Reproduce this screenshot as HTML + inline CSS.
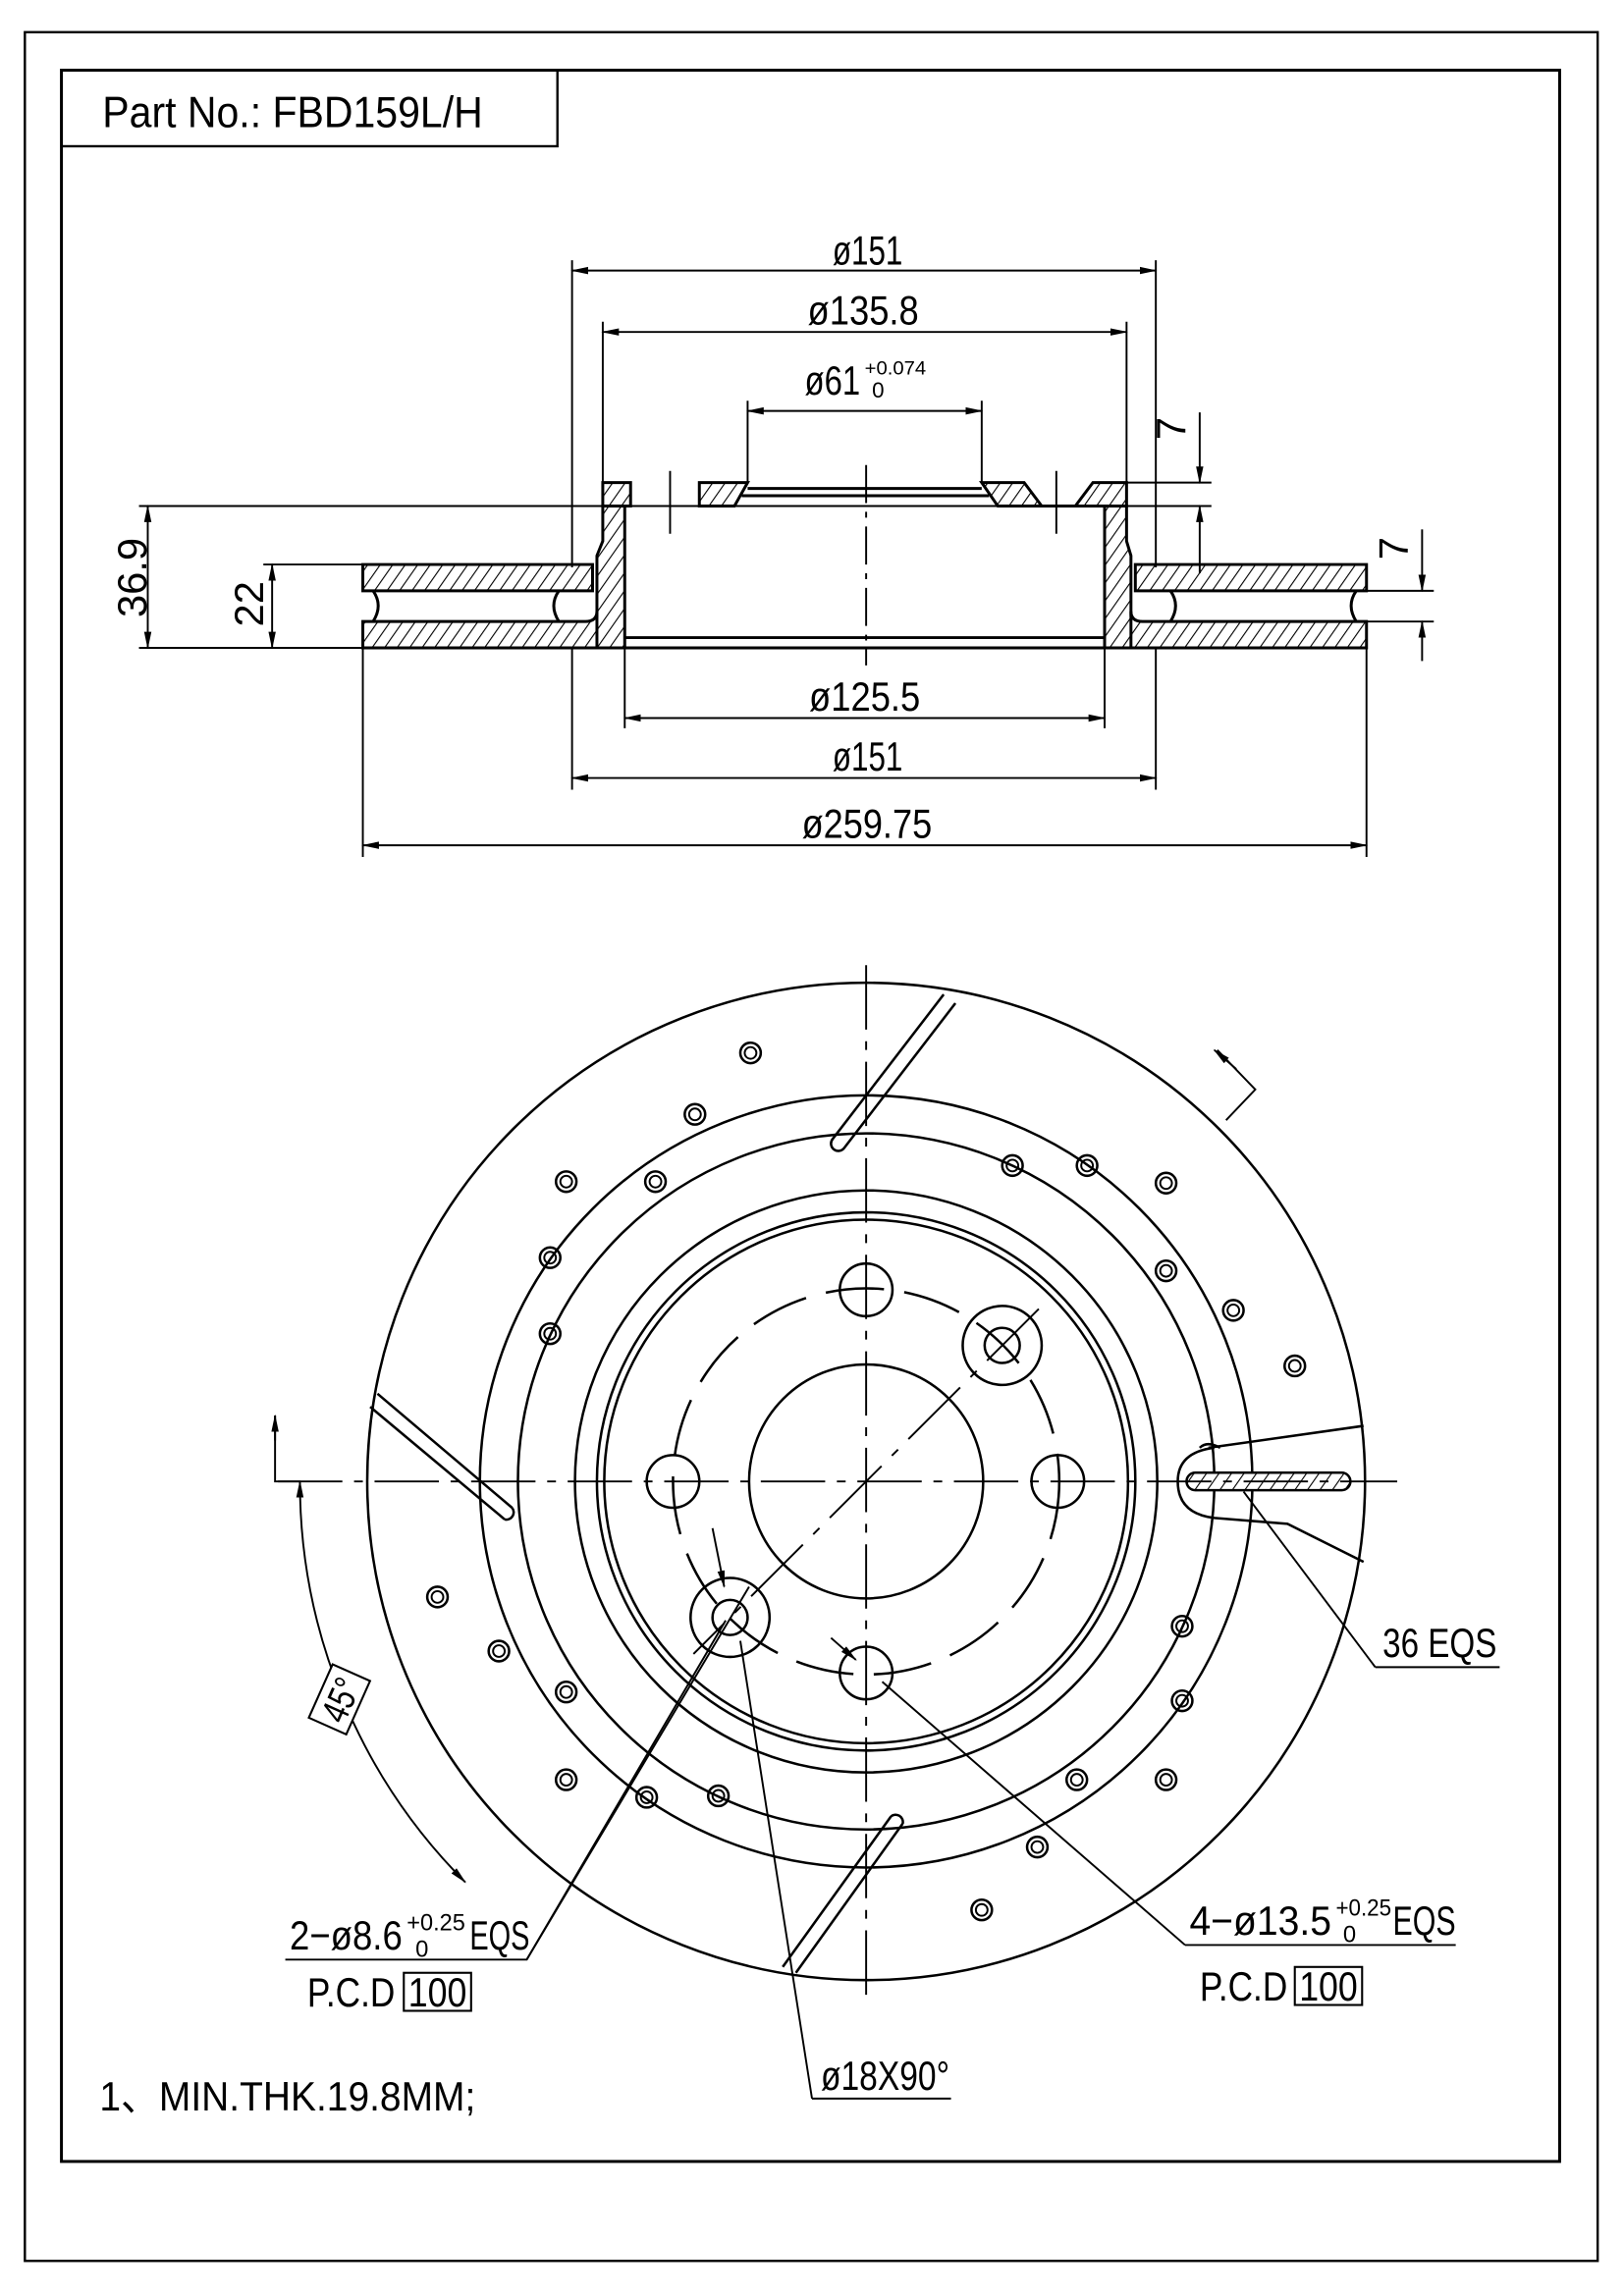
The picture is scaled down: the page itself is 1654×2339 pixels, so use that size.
<!DOCTYPE html>
<html><head><meta charset="utf-8"><style>
html,body{margin:0;padding:0;background:#fff}
svg{display:block}
text{font-family:"Liberation Sans Narrow","Liberation Sans",sans-serif;fill:#000}
</style></head><body>
<svg width="1654" height="2339" viewBox="0 0 1110 1570" preserveAspectRatio="none" xmlns="http://www.w3.org/2000/svg">
<defs>
<pattern id="h" width="7" height="7" patternUnits="userSpaceOnUse" patternTransform="rotate(35)">
<rect width="7" height="7" fill="#fff"/><line x1="0" y1="0" x2="0" y2="7" stroke="#000" stroke-width="1.5"/>
</pattern>
<marker id="a" markerWidth="12" markerHeight="6" refX="11" refY="3" orient="auto" markerUnits="userSpaceOnUse"><path d="M0,0.5 L12,3 L0,5.5 Z" fill="#000"/></marker>
<marker id="b" markerWidth="12" markerHeight="6" refX="1" refY="3" orient="auto" markerUnits="userSpaceOnUse"><path d="M12,0.5 L0,3 L12,5.5 Z" fill="#000"/></marker>
</defs>
<g fill="none" stroke="#000">
<rect x="17" y="22" width="1075" height="1524" stroke-width="1.6"/>
<rect x="42" y="48" width="1024" height="1430" stroke-width="2"/>
<rect x="42" y="48" width="339" height="52" stroke-width="1.6"/>
</g>
<text x="70" y="87" font-size="30" textLength="260" lengthAdjust="spacingAndGlyphs">Part No.: FBD159L/H</text>

<!-- SECTION VIEW -->
<g stroke="#000" stroke-width="2" fill="url(#h)">
<path d="M412,330 H431 V346 H412 Z"/>
<path d="M478,330 H511 L502,346 H478 Z"/>
<path d="M671,330 H700 L712,346 H682 Z"/>
<path d="M735,346 L747,330 H770 V346 Z"/>
<path d="M412,346 H427 V443 H391 L398,436 Q408,430 408,420 L408,380 L412,370 Z"/>
<path d="M770,346 H755 V443 H790 L783,436 Q773,430 773,420 L773,380 L770,370 Z"/>
<path d="M248,386 H405 V404 H248 Z"/>
<path d="M248,425 H400 Q408,425 408,418 V443 H248 Z"/>
<path d="M776,386 H934 V404 H776 Z"/>
<path d="M773,418 Q773,425 781,425 H934 V443 H773 Z"/>
</g>
<g fill="none" stroke="#000" stroke-width="2">
<path d="M511,334 H671 M507,339 H676"/>
<path d="M712,346 H735"/>
<path d="M427,436 H755 M391,443 H790"/>
<path d="M255,404 Q262,414 255,425 M382,404 Q375,414 382,425"/>
<path d="M927,404 Q920,414 927,425 M800,404 Q807,414 800,425"/>
</g>
<g fill="none" stroke="#000" stroke-width="1.3">
<path d="M592,318 V455" stroke-dasharray="26 6 4 6"/>
<path d="M458,322 V365 M722,322 V365"/>
<path d="M391,178 V388 M790,178 V388 M412,220 V330 M770,220 V330 M511,274 V330 M671,274 V330"/>
<path d="M391,443 V540 M790,443 V540 M427,443 V498 M755,443 V498 M248,443 V586 M934,443 V586"/>
<path d="M95,346 H828 M95,443 H248 M180,386 H248 M770,330 H828 M934,404 H980 M934,425 H980"/>
<path d="M391,185 H790" marker-start="url(#b)" marker-end="url(#a)"/>
<path d="M412,227 H770" marker-start="url(#b)" marker-end="url(#a)"/>
<path d="M511,281 H671" marker-start="url(#b)" marker-end="url(#a)"/>
<path d="M427,491 H755" marker-start="url(#b)" marker-end="url(#a)"/>
<path d="M391,532 H790" marker-start="url(#b)" marker-end="url(#a)"/>
<path d="M248,578 H934" marker-start="url(#b)" marker-end="url(#a)"/>
<path d="M101,346 V443" marker-start="url(#b)" marker-end="url(#a)"/>
<path d="M186,386 V443" marker-start="url(#b)" marker-end="url(#a)"/>
<path d="M820,282 V330" marker-end="url(#a)"/>
<path d="M820,392 V346" marker-end="url(#a)"/>
<path d="M972,362 V404" marker-end="url(#a)"/>
<path d="M972,452 V425" marker-end="url(#a)"/>
</g>
<g font-size="28">
<text x="569" y="181" textLength="48" lengthAdjust="spacingAndGlyphs">ø151</text>
<text x="552" y="222" textLength="76" lengthAdjust="spacingAndGlyphs">ø135.8</text>
<text x="550" y="270" textLength="38" lengthAdjust="spacingAndGlyphs">ø61</text>
<text x="591" y="256" font-size="13" textLength="42" lengthAdjust="spacingAndGlyphs">+0.074</text>
<text x="596" y="272" font-size="15">0</text>
<text x="553" y="486" textLength="76" lengthAdjust="spacingAndGlyphs">ø125.5</text>
<text x="569" y="527" textLength="48" lengthAdjust="spacingAndGlyphs">ø151</text>
<text x="548" y="573" textLength="89" lengthAdjust="spacingAndGlyphs">ø259.75</text>
<text transform="translate(100,395) rotate(-90)" text-anchor="middle">36.9</text>
<text transform="translate(180,413) rotate(-90)" text-anchor="middle">22</text>
<text transform="translate(810,293) rotate(-90)" text-anchor="middle">7</text>
<text transform="translate(962,375) rotate(-90)" text-anchor="middle">7</text>
</g>

<!-- FRONT VIEW -->
<g fill="none" stroke="#000" stroke-width="1.7">
<circle cx="592" cy="1013" r="341"/>
<circle cx="592" cy="1013" r="264"/>
<circle cx="592" cy="1013" r="238"/>
<circle cx="592" cy="1013" r="199"/>
<circle cx="592" cy="1013" r="184"/>
<circle cx="592" cy="1013" r="179"/>
<circle cx="592" cy="1013" r="80"/>
<circle cx="592" cy="1013" r="132" stroke-dasharray="40 14"/>
<circle cx="592" cy="882" r="18"/>
<circle cx="460" cy="1013" r="18"/>
<circle cx="723" cy="1013" r="18"/>
<circle cx="592" cy="1144" r="18"/>
<circle cx="685" cy="920" r="27"/><circle cx="685" cy="920" r="12"/>
<circle cx="499" cy="1106" r="27"/><circle cx="499" cy="1106" r="12"/>
<path d="M569,779 L645,680 M577,785 L653,686 M569,779 A5,5 0 0,0 577,785"/>
<path d="M258,953 L350,1031 M253,962 L345,1039 M350,1031 A5,5 0 0,1 345,1039"/>
<path d="M617,1247 L544,1349 M609,1242 L535,1345 M617,1247 A5,5 0 0,0 609,1242"/>
<path d="M830,990 Q805,993 805,1013 Q805,1035 830,1038 L880,1042 L932,1068 M826,990 L932,975 M820,990 Q825,985 834,990"/>
</g>
<rect x="811" y="1007" width="112" height="12" rx="6" fill="url(#h)" stroke="#000" stroke-width="1.7"/>
<g fill="none" stroke="#000" stroke-width="1.7">
<circle cx="513" cy="720" r="7"/><circle cx="475" cy="762" r="7"/><circle cx="387" cy="808" r="7"/><circle cx="448" cy="808" r="7"/>
<circle cx="376" cy="860" r="7"/><circle cx="376" cy="912" r="7"/><circle cx="692" cy="797" r="7"/><circle cx="743" cy="797" r="7"/>
<circle cx="797" cy="809" r="7"/><circle cx="797" cy="869" r="7"/><circle cx="843" cy="896" r="7"/><circle cx="885" cy="934" r="7"/>
<circle cx="299" cy="1092" r="7"/><circle cx="341" cy="1129" r="7"/><circle cx="387" cy="1157" r="7"/><circle cx="387" cy="1217" r="7"/>
<circle cx="442" cy="1229" r="7"/><circle cx="491" cy="1228" r="7"/><circle cx="736" cy="1217" r="7"/><circle cx="797" cy="1217" r="7"/>
<circle cx="808" cy="1112" r="7"/><circle cx="808" cy="1163" r="7"/><circle cx="709" cy="1263" r="7"/><circle cx="671" cy="1306" r="7"/>
<g stroke-width="1.3">
<circle cx="513" cy="720" r="4"/><circle cx="475" cy="762" r="4"/><circle cx="387" cy="808" r="4"/><circle cx="448" cy="808" r="4"/>
<circle cx="376" cy="860" r="4"/><circle cx="376" cy="912" r="4"/><circle cx="692" cy="797" r="4"/><circle cx="743" cy="797" r="4"/>
<circle cx="797" cy="809" r="4"/><circle cx="797" cy="869" r="4"/><circle cx="843" cy="896" r="4"/><circle cx="885" cy="934" r="4"/>
<circle cx="299" cy="1092" r="4"/><circle cx="341" cy="1129" r="4"/><circle cx="387" cy="1157" r="4"/><circle cx="387" cy="1217" r="4"/>
<circle cx="442" cy="1229" r="4"/><circle cx="491" cy="1228" r="4"/><circle cx="736" cy="1217" r="4"/><circle cx="797" cy="1217" r="4"/>
<circle cx="808" cy="1112" r="4"/><circle cx="808" cy="1163" r="4"/><circle cx="709" cy="1263" r="4"/><circle cx="671" cy="1306" r="4"/>
</g>
</g>
<g fill="none" stroke="#000" stroke-width="1.3">
<path d="M592,660 V1372" stroke-dasharray="44 8 6 8"/>
<path d="M190,1013 H955" stroke-dasharray="44 8 6 8"/>
<path d="M710,895 L474,1131" stroke-dasharray="50 10 6 10"/>
<path d="M188,968 V1013 H205" />
<path d="M188,985 V968" marker-end="url(#a)"/>
<path d="M838,766 L858,745 L832,718" />
<path d="M845,731 L830,718" marker-end="url(#a)"/>
<path d="M205,1013 A387,387 0 0,0 318,1287" marker-start="url(#b)" marker-end="url(#a)"/>
<path d="M195,1340 H360 L496,1108"/>
<path d="M360,1340 L512,1085"/>
<path d="M555,1435 H650 M555,1435 L506,1122" />
<path d="M487,1045 L495,1085" marker-end="url(#a)"/>
<path d="M810,1330 H995 M810,1330 L603,1150"/>
<path d="M568,1120 L585,1135" marker-end="url(#a)"/>
<path d="M940,1140 H1025 M940,1140 L850,1020"/>
</g>
<g transform="translate(232,1162) rotate(-66)">
<rect x="-20" y="-14" width="40" height="28" fill="#fff" stroke="#000" stroke-width="1.4"/>
<text x="0" y="10" font-size="26" text-anchor="middle" textLength="30" lengthAdjust="spacingAndGlyphs">45°</text>
</g>
<g font-size="28">
<text x="198" y="1333" textLength="77" lengthAdjust="spacingAndGlyphs">2−ø8.6</text>
<text x="278" y="1320" font-size="16" textLength="40" lengthAdjust="spacingAndGlyphs">+0.25</text>
<text x="284" y="1338" font-size="16">0</text>
<text x="321" y="1333" textLength="41" lengthAdjust="spacingAndGlyphs">EQS</text>
<text x="210" y="1372" textLength="60" lengthAdjust="spacingAndGlyphs">P.C.D</text>
<rect x="276" y="1349" width="46" height="26" fill="none" stroke="#000" stroke-width="1.4"/>
<text x="279" y="1372" textLength="40" lengthAdjust="spacingAndGlyphs">100</text>
<text x="813" y="1323" textLength="97" lengthAdjust="spacingAndGlyphs">4−ø13.5</text>
<text x="913" y="1310" font-size="16" textLength="38" lengthAdjust="spacingAndGlyphs">+0.25</text>
<text x="918" y="1328" font-size="16">0</text>
<text x="952" y="1323" textLength="43" lengthAdjust="spacingAndGlyphs">EQS</text>
<text x="820" y="1368" textLength="60" lengthAdjust="spacingAndGlyphs">P.C.D</text>
<rect x="885" y="1345" width="46" height="26" fill="none" stroke="#000" stroke-width="1.4"/>
<text x="888" y="1368" textLength="40" lengthAdjust="spacingAndGlyphs">100</text>
<text x="945" y="1133" textLength="78" lengthAdjust="spacingAndGlyphs">36 EQS</text>
<text x="561" y="1429" textLength="88" lengthAdjust="spacingAndGlyphs">ø18X90°</text>
<text x="68" y="1443" textLength="257" lengthAdjust="spacingAndGlyphs">1、MIN.THK.19.8MM;</text>
</g>
</svg>
</body></html>
